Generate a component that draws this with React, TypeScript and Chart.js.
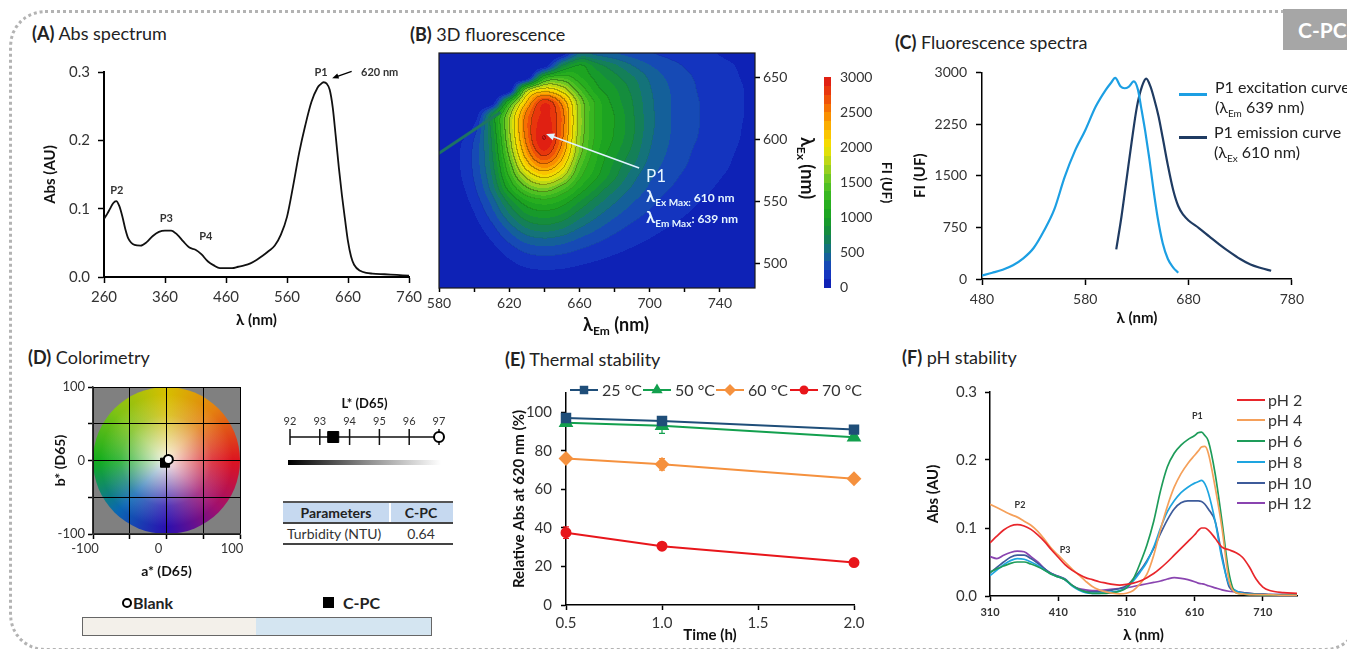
import React, { useEffect, useRef } from 'react';
import { Chart, registerables } from 'chart.js';

Chart.register(...registerables);

const FONT = 'Lato, "Open Sans", "DejaVu Sans", sans-serif';

/* ---------------- (A) Abs spectrum ---------------- */
const absWavelength = [260, 265, 270, 275, 280, 285, 290, 295, 300, 310, 320, 330, 340, 350, 360, 370, 380, 390, 400, 410, 420, 430, 440, 450, 460, 470, 480, 490, 500, 510, 520, 530, 540, 550, 560, 570, 580, 590, 600, 610, 615, 620, 625, 630, 635, 640, 645, 650, 655, 660, 665, 670, 680, 690, 700, 720, 740, 760];
const absValue = [0.085, 0.092, 0.1, 0.108, 0.111, 0.104, 0.089, 0.07, 0.056, 0.047, 0.046, 0.051, 0.06, 0.066, 0.068, 0.068, 0.062, 0.052, 0.043, 0.04, 0.033, 0.023, 0.017, 0.013, 0.013, 0.013, 0.015, 0.017, 0.02, 0.025, 0.031, 0.038, 0.046, 0.062, 0.088, 0.133, 0.182, 0.222, 0.256, 0.277, 0.282, 0.285, 0.283, 0.274, 0.248, 0.205, 0.16, 0.12, 0.085, 0.052, 0.03, 0.018, 0.009, 0.006, 0.005, 0.004, 0.003, 0.002];
const absXTicks = [260, 360, 460, 560, 660, 760];
const absYTicks = [0, 0.1, 0.2, 0.3];

/* ---------------- (B) 3D fluorescence ---------------- */
const emAxisNm = [580, 590, 600, 610, 620, 630, 640, 650, 660, 670, 680, 690, 700, 710, 720, 730, 740, 750, 760];
const exAxisNm = [670, 660, 650, 640, 630, 620, 610, 600, 590, 580, 570, 560, 550, 540, 530, 520, 510, 500, 490, 480];
const fluorGrid = [
  [0, 0, 0, 0, 0, 0, 0, 0, 500, 450, 380, 320, 260, 220, 180, 150, 120, 100, 80],
  [0, 0, 0, 0, 0, 0, 0, 700, 1000, 800, 650, 500, 380, 300, 240, 190, 150, 120, 90],
  [0, 0, 0, 0, 0, 0, 1150, 1350, 1150, 950, 800, 650, 480, 360, 280, 220, 170, 130, 100],
  [0, 0, 0, 0, 0, 1650, 2100, 1900, 1400, 1050, 900, 720, 520, 390, 300, 230, 180, 140, 105],
  [0, 0, 0, 0, 1200, 2250, 2850, 2450, 1650, 1200, 950, 760, 540, 400, 310, 240, 180, 140, 105],
  [0, 0, 0, 750, 1650, 2550, 2900, 2600, 1700, 1200, 1000, 780, 550, 400, 310, 240, 180, 140, 105],
  [0, 0, 150, 800, 1700, 2600, 2950, 2600, 1700, 1200, 1000, 790, 550, 400, 310, 240, 180, 135, 100],
  [0, 80, 250, 750, 1650, 2550, 3000, 2550, 1650, 1200, 980, 770, 530, 390, 300, 230, 170, 130, 95],
  [30, 100, 280, 720, 1550, 2400, 2850, 2400, 1600, 1150, 920, 720, 500, 370, 280, 210, 160, 120, 90],
  [30, 100, 280, 680, 1400, 2150, 2500, 2150, 1450, 1100, 850, 650, 460, 340, 260, 200, 150, 110, 85],
  [20, 90, 260, 620, 1250, 1800, 2050, 1800, 1300, 1020, 780, 560, 400, 300, 230, 175, 130, 100, 75],
  [10, 70, 220, 540, 1050, 1450, 1600, 1400, 1100, 850, 640, 480, 350, 260, 200, 150, 110, 85, 65],
  [5, 50, 170, 420, 800, 1100, 1200, 1100, 880, 680, 520, 390, 290, 210, 160, 120, 90, 70, 55],
  [0, 30, 120, 320, 620, 880, 950, 880, 700, 540, 410, 310, 230, 170, 130, 100, 75, 60, 45],
  [0, 20, 80, 220, 450, 660, 730, 670, 530, 410, 310, 230, 170, 130, 100, 80, 60, 45, 35],
  [0, 10, 50, 140, 300, 450, 500, 460, 370, 290, 220, 165, 125, 95, 75, 60, 45, 35, 28],
  [0, 5, 30, 80, 180, 280, 310, 290, 240, 190, 145, 110, 85, 65, 50, 40, 30, 25, 20],
  [0, 0, 15, 40, 100, 160, 180, 170, 140, 110, 85, 65, 50, 40, 30, 25, 20, 15, 12],
  [0, 0, 5, 15, 45, 75, 85, 80, 65, 50, 40, 30, 25, 20, 15, 12, 10, 8, 6],
  [0, 0, 0, 5, 15, 25, 30, 28, 22, 18, 14, 10, 8, 6, 5, 4, 3, 2, 2],
];
const scatterEm = [579, 615];
const scatterEx = [588, 622];
const emTicks = [580, 600, 620, 640, 660, 680, 700, 720, 740];
const exTicks = [500, 550, 600, 650];
const fiTicks = [0, 500, 1000, 1500, 2000, 2500, 3000];
const heatStops = [0, 250, 500, 750, 1000, 1250, 1500, 1750, 2000, 2250, 2500, 2750, 3000];
const heatColors = [[12, 24, 178], [22, 62, 195], [20, 108, 140], [20, 135, 70], [24, 160, 34], [44, 178, 30], [92, 196, 36], [172, 212, 28], [242, 228, 0], [252, 186, 0], [248, 128, 0], [236, 66, 10], [220, 20, 20]];

/* ---------------- (C) Fluorescence spectra ---------------- */
const excWavelength = [480, 490, 500, 510, 520, 530, 540, 550, 560, 570, 580, 590, 600, 605, 609, 614, 618, 622, 627, 631, 634, 638, 642, 646, 650, 655, 660, 665, 670];
const excIntensity = [50, 90, 135, 200, 300, 450, 700, 1010, 1480, 1860, 2160, 2500, 2750, 2850, 2920, 2800, 2770, 2790, 2870, 2750, 2500, 2150, 1750, 1300, 900, 520, 290, 170, 90];
const emiWavelength = [610, 615, 620, 625, 630, 635, 639, 643, 647, 651, 655, 660, 665, 670, 675, 680, 690, 700, 710, 720, 730, 740, 750, 760];
const emiIntensity = [430, 900, 1450, 2000, 2500, 2800, 2910, 2800, 2600, 2360, 2050, 1650, 1300, 1060, 930, 850, 740, 620, 500, 390, 290, 210, 160, 120];
const fsXTicks = [480, 580, 680, 780];
const fsYTicks = [0, 750, 1500, 2250, 3000];

/* ---------------- (D) Colorimetry ---------------- */
const sampleNames = ['Blank', 'C-PC'];
const aStar = [2.5, -2];
const bStar = [1.5, -3];
const lStar = [97, 93.45];
const abTicks = [-100, -50, 0, 50, 100];
const lTicks = [92, 93, 94, 95, 96, 97];
const turbidityNTU = 0.64;

/* ---------------- (E) Thermal stability ---------------- */
const timeHours = [0.5, 1.0, 2.0];
const thermalLabels = ['25 °C', '50 °C', '60 °C', '70 °C'];
const rel25 = [97, 95.5, 91];
const rel50 = [94.5, 93, 87];
const rel60 = [76, 73, 65.5];
const rel70 = [37.5, 30.5, 22];
const err25 = [1.2, 1, 1];
const err50 = [1, 4, 1];
const err60 = [1.5, 3, 1];
const err70 = [3, 1, 0.8];
const timeTicks = [0.5, 1, 1.5, 2];
const relTicks = [0, 20, 40, 60, 80, 100];

/* ---------------- (F) pH stability ---------------- */
const phWavelength = [310, 320, 330, 340, 350, 360, 370, 380, 390, 400, 410, 420, 430, 440, 450, 460, 470, 480, 490, 500, 510, 520, 530, 540, 550, 560, 570, 580, 590, 600, 610, 615, 620, 625, 630, 640, 650, 660, 670, 680, 690, 700, 710, 720, 740, 760];
const phLabels = ['pH 2', 'pH 4', 'pH 6', 'pH 8', 'pH 10', 'pH 12'];
const absPH2 = [0.078, 0.088, 0.097, 0.103, 0.105, 0.103, 0.098, 0.09, 0.08, 0.068, 0.057, 0.046, 0.038, 0.032, 0.027, 0.024, 0.021, 0.019, 0.017, 0.016, 0.017, 0.019, 0.022, 0.027, 0.033, 0.041, 0.05, 0.06, 0.07, 0.08, 0.09, 0.096, 0.1, 0.1, 0.097, 0.085, 0.072, 0.068, 0.064, 0.057, 0.043, 0.025, 0.013, 0.008, 0.005, 0.004];
const absPH4 = [0.135, 0.13, 0.125, 0.12, 0.116, 0.11, 0.104, 0.095, 0.083, 0.07, 0.06, 0.05, 0.04, 0.031, 0.022, 0.014, 0.009, 0.006, 0.004, 0.003, 0.004, 0.008, 0.018, 0.032, 0.06, 0.098, 0.132, 0.16, 0.18, 0.195, 0.207, 0.213, 0.219, 0.22, 0.21, 0.16, 0.1, 0.025, 0.005, 0.003, 0.002, 0.002, 0.002, 0.002, 0.001, 0.001];
const absPH6 = [0.035, 0.04, 0.044, 0.048, 0.05, 0.05, 0.047, 0.043, 0.038, 0.032, 0.028, 0.024, 0.016, 0.01, 0.006, 0.004, 0.004, 0.004, 0.005, 0.007, 0.012, 0.025, 0.048, 0.075, 0.11, 0.155, 0.19, 0.21, 0.222, 0.23, 0.236, 0.24, 0.241, 0.236, 0.228, 0.18, 0.11, 0.035, 0.005, 0.003, 0.002, 0.002, 0.001, 0.001, 0.001, 0.001];
const absPH8 = [0.03, 0.038, 0.046, 0.052, 0.055, 0.054, 0.05, 0.045, 0.038, 0.032, 0.028, 0.024, 0.015, 0.009, 0.005, 0.004, 0.004, 0.005, 0.006, 0.008, 0.012, 0.022, 0.035, 0.05, 0.072, 0.1, 0.124, 0.14, 0.152, 0.16, 0.166, 0.168, 0.17, 0.165, 0.152, 0.11, 0.055, 0.018, 0.008, 0.004, 0.003, 0.002, 0.002, 0.002, 0.001, 0.001];
const absPH10 = [0.034, 0.042, 0.05, 0.057, 0.06, 0.06, 0.055, 0.048, 0.04, 0.033, 0.029, 0.025, 0.016, 0.01, 0.007, 0.006, 0.006, 0.007, 0.009, 0.011, 0.015, 0.025, 0.037, 0.052, 0.07, 0.092, 0.112, 0.128, 0.137, 0.14, 0.14, 0.14, 0.139, 0.135, 0.128, 0.11, 0.06, 0.015, 0.007, 0.005, 0.004, 0.003, 0.003, 0.002, 0.002, 0.002];
const absPH12 = [0.058, 0.055, 0.06, 0.064, 0.066, 0.065, 0.058, 0.05, 0.04, 0.033, 0.029, 0.024, 0.016, 0.011, 0.009, 0.008, 0.008, 0.009, 0.01, 0.011, 0.012, 0.014, 0.016, 0.018, 0.02, 0.022, 0.025, 0.027, 0.026, 0.024, 0.021, 0.019, 0.018, 0.017, 0.015, 0.012, 0.009, 0.007, 0.006, 0.005, 0.004, 0.003, 0.003, 0.002, 0.002, 0.002];
const phXTicks = [310, 410, 510, 610, 710];
const phYTicks = [0, 0.1, 0.2, 0.3];

/* ---------------- colours ---------------- */
const EXC_COLOR = '#1c9fe3';
const EMI_COLOR = '#1f3b62';
const THERMAL_COLORS = ['#1f4e79', '#13a04e', '#f5913e', '#e8161b'];
const THERMAL_MARKERS = ['rect', 'triangle', 'rectRot', 'circle'];
const THERMAL_RADII = [6, 6.5, 6, 4.5];
const PH_COLORS = ['#e8262b', '#f5a05a', '#1e9c5a', '#1ea5e0', '#3d5b9a', '#8a44b0'];

/* ---------------- helpers ---------------- */
const clamp = (v: number, a: number, b: number) => Math.max(a, Math.min(b, v));

function mkAxis(o: any) {
  const horiz = o.position === 'bottom' || o.position === 'top';
  let title: any = { display: false };
  if (o.title) {
    const lh = o.title.size * 1.2;
    const p = Math.max(0, o.title.offset - lh / 2);
    title = {
      display: true,
      text: o.title.text,
      color: '#111',
      font: { family: FONT, size: o.title.size, weight: 'bold', lineHeight: 1.2 },
      padding: o.position === 'bottom' ? { top: 0, bottom: p } : { top: p, bottom: 0 },
    };
  }
  return {
    type: 'linear',
    position: o.position,
    min: o.min,
    max: o.max,
    afterBuildTicks: (s: any) => {
      s.ticks = o.ticks.map((v: number) => ({ value: v }));
    },
    afterFit: (s: any) => {
      if (horiz) s.height = o.size;
      else s.width = o.size;
    },
    ticks: {
      autoSkip: false,
      maxRotation: 0,
      minRotation: 0,
      includeBounds: false,
      padding: o.pad ?? 4,
      color: o.color ?? '#333',
      labelOffset: o.labelOffset ?? 0,
      font: { family: FONT, size: o.font ?? 14, weight: o.fontWeight ?? 'normal' },
      callback: (v: any) => (o.fmt ? o.fmt(Number(v)) : String(v)),
    },
    grid: {
      drawOnChartArea: !!o.gridOn,
      drawTicks: o.drawTicks ?? true,
      tickLength: o.tickLen ?? 5,
      color: o.gridColor ?? '#000',
      lineWidth: o.gridWidth ?? 1,
      tickColor: o.tickColor ?? '#000',
      tickWidth: o.tickWidth ?? 1.5,
    },
    border: { display: o.borderOn ?? true, color: o.borderColor ?? '#000', width: o.borderWidth ?? 1.5 },
    title,
  };
}

const baseOptions = () => ({ animation: false, responsive: false, maintainAspectRatio: false, events: [] as any[] });
const basePlugins = { legend: { display: false }, tooltip: { enabled: false } };

function drawArrow(ctx: any, x1: number, y1: number, x2: number, y2: number, color: string, width: number, head: number) {
  const ang = Math.atan2(y2 - y1, x2 - x1);
  ctx.strokeStyle = color;
  ctx.fillStyle = color;
  ctx.lineWidth = width;
  ctx.beginPath();
  ctx.moveTo(x1, y1);
  ctx.lineTo(x2 - Math.cos(ang) * head * 0.8, y2 - Math.sin(ang) * head * 0.8);
  ctx.stroke();
  ctx.beginPath();
  ctx.moveTo(x2, y2);
  ctx.lineTo(x2 - head * Math.cos(ang - 0.4), y2 - head * Math.sin(ang - 0.4));
  ctx.lineTo(x2 - head * Math.cos(ang + 0.4), y2 - head * Math.sin(ang + 0.4));
  ctx.closePath();
  ctx.fill();
}

function drawMarker(ctx: any, style: string, x: number, y: number, r: number, color: string) {
  ctx.fillStyle = color;
  ctx.beginPath();
  if (style === 'rect') {
    const s = r * Math.SQRT1_2;
    ctx.rect(x - s, y - s, 2 * s, 2 * s);
  } else if (style === 'triangle') {
    ctx.moveTo(x, y - r);
    ctx.lineTo(x + r * 0.866, y + r * 0.5);
    ctx.lineTo(x - r * 0.866, y + r * 0.5);
    ctx.closePath();
  } else if (style === 'rectRot') {
    ctx.moveTo(x, y - r);
    ctx.lineTo(x + r, y);
    ctx.lineTo(x, y + r);
    ctx.lineTo(x - r, y);
    ctx.closePath();
  } else {
    ctx.arc(x, y, r, 0, Math.PI * 2);
  }
  ctx.fill();
}

const notesPlugin = {
  id: 'notes',
  afterDatasetsDraw(chart: any, _a: any, opts: any) {
    const { ctx, scales } = chart;
    const xs = scales.x;
    const ys = scales.y;
    ctx.save();
    for (const it of opts.items || []) {
      if (it.arrow) {
        const [x1, y1, x2, y2] = it.arrow;
        drawArrow(ctx, xs.getPixelForValue(x1), ys.getPixelForValue(y1), xs.getPixelForValue(x2), ys.getPixelForValue(y2), it.color, it.width, it.head);
      } else {
        ctx.font = `${it.weight || 'bold'} ${it.size || 10}px ${FONT}`;
        ctx.fillStyle = it.color || '#333';
        ctx.textAlign = it.align || 'center';
        ctx.textBaseline = 'middle';
        ctx.fillText(it.text, xs.getPixelForValue(it.x), ys.getPixelForValue(it.y));
      }
    }
    ctx.restore();
  },
};

const legendPlugin = {
  id: 'lgd',
  afterDraw(chart: any, _a: any, o: any) {
    const { ctx } = chart;
    ctx.save();
    ctx.font = `${o.size}px ${FONT}`;
    ctx.textBaseline = 'middle';
    ctx.textAlign = 'left';
    for (const it of o.items || []) {
      ctx.strokeStyle = it.color;
      ctx.lineWidth = o.lineWidth;
      ctx.beginPath();
      ctx.moveTo(it.x, it.y);
      ctx.lineTo(it.x + o.lineLen, it.y);
      ctx.stroke();
      if (it.marker) drawMarker(ctx, it.marker, it.x + o.lineLen / 2, it.y, it.r, it.color);
      ctx.fillStyle = o.textColor;
      ctx.fillText(it.text, it.x + o.lineLen + o.gap, it.y + 1);
    }
    ctx.restore();
  },
};

const errorBarPlugin = {
  id: 'errbars',
  beforeDatasetsDraw(chart: any) {
    const { ctx, scales } = chart;
    ctx.save();
    chart.data.datasets.forEach((ds: any) => {
      if (!ds.errors) return;
      ctx.strokeStyle = ds.borderColor;
      ctx.lineWidth = 1.2;
      ds.data.forEach((p: any, j: number) => {
        const e = ds.errors[j];
        const px = scales.x.getPixelForValue(p.x);
        const t = scales.y.getPixelForValue(p.y + e);
        const b = scales.y.getPixelForValue(p.y - e);
        ctx.beginPath();
        ctx.moveTo(px, t);
        ctx.lineTo(px, b);
        ctx.moveTo(px - 3, t);
        ctx.lineTo(px + 3, t);
        ctx.moveTo(px - 3, b);
        ctx.lineTo(px + 3, b);
        ctx.stroke();
      });
    });
    ctx.restore();
  },
};

/* heat map sampling + colour map */
function catmull(p0: number, p1: number, p2: number, p3: number, t: number) {
  return 0.5 * (2 * p1 + (-p0 + p2) * t + (2 * p0 - 5 * p1 + 4 * p2 - p3) * t * t + (-p0 + 3 * p1 - 3 * p2 + p3) * t * t * t);
}
function sampleFluor(em: number, ex: number) {
  const nc = emAxisNm.length;
  const nr = exAxisNm.length;
  const c = clamp((em - emAxisNm[0]) / (emAxisNm[1] - emAxisNm[0]), 0, nc - 1);
  const r = clamp((ex - exAxisNm[0]) / (exAxisNm[1] - exAxisNm[0]), 0, nr - 1);
  const c1 = Math.min(nc - 2, Math.floor(c));
  const r1 = Math.min(nr - 2, Math.floor(r));
  const tc = c - c1;
  const tr = r - r1;
  const at = (ri: number, ci: number) => fluorGrid[clamp(ri, 0, nr - 1)][clamp(ci, 0, nc - 1)];
  const rows = [-1, 0, 1, 2].map((dr) => catmull(at(r1 + dr, c1 - 1), at(r1 + dr, c1), at(r1 + dr, c1 + 1), at(r1 + dr, c1 + 2), tc));
  return Math.max(0, catmull(rows[0], rows[1], rows[2], rows[3], tr));
}
const BAND = 125;
function heatColor(v: number) {
  const q = clamp(Math.floor(v / BAND) * BAND + BAND / 2, 0, 3000);
  let i = 0;
  while (i < heatStops.length - 2 && q > heatStops[i + 1]) i++;
  const t = (q - heatStops[i]) / (heatStops[i + 1] - heatStops[i]);
  const a = heatColors[i];
  const b = heatColors[i + 1];
  return [a[0] + (b[0] - a[0]) * t, a[1] + (b[1] - a[1]) * t, a[2] + (b[2] - a[2]) * t];
}

const heatmapPlugin = {
  id: 'heat',
  beforeDraw(chart: any) {
    const { ctx, chartArea: a, scales } = chart;
    const left = Math.round(a.left);
    const top = Math.round(a.top);
    const w = Math.round(a.right) - left;
    const h = Math.round(a.bottom) - top;
    const vals = new Float32Array(w * h);
    for (let j = 0; j < h; j++) {
      const ex = scales.y.getValueForPixel(top + j + 0.5);
      for (let i = 0; i < w; i++) {
        const em = scales.x.getValueForPixel(left + i + 0.5);
        vals[j * w + i] = sampleFluor(em, ex);
      }
    }
    const img = ctx.createImageData(w, h);
    for (let j = 0; j < h; j++) {
      for (let i = 0; i < w; i++) {
        const k = j * w + i;
        const v = vals[k];
        const col = heatColor(v);
        const L = Math.floor(v / 250);
        const Lr = i < w - 1 ? Math.floor(vals[k + 1] / 250) : L;
        const Lb = j < h - 1 ? Math.floor(vals[k + w] / 250) : L;
        let f = 1;
        if (L !== Lr || L !== Lb) {
          const m = Math.max(L, Lr, Lb);
          f = m >= 6 ? 0.72 : m >= 4 ? 0.88 : 0.95;
        }
        img.data[k * 4] = col[0] * f;
        img.data[k * 4 + 1] = col[1] * f;
        img.data[k * 4 + 2] = col[2] * f;
        img.data[k * 4 + 3] = 255;
      }
    }
    ctx.putImageData(img, left, top);
  },
};

const framePlugin = {
  id: 'frame',
  afterDraw(chart: any) {
    const { ctx, chartArea: a } = chart;
    ctx.save();
    ctx.strokeStyle = '#1a1a1a';
    ctx.lineWidth = 1.2;
    ctx.strokeRect(a.left, a.top, a.right - a.left, a.bottom - a.top);
    ctx.restore();
  },
};

const colorbarPlugin = {
  id: 'cbar',
  beforeDraw(chart: any) {
    const { ctx, chartArea: a, scales } = chart;
    for (let py = Math.round(a.top); py < Math.round(a.bottom); py++) {
      const v = scales.y.getValueForPixel(py + 0.5);
      const c = heatColor(clamp(v, 0, 2999));
      ctx.fillStyle = `rgb(${c[0]},${c[1]},${c[2]})`;
      ctx.fillRect(a.left, py, a.right - a.left, 1);
    }
  },
};

const wheelStops: [number, string][] = [
  [0, '#dc1420'],
  [0.12, '#a0106e'],
  [0.25, '#2a10b0'],
  [0.37, '#0a66b4'],
  [0.5, '#14ad1e'],
  [0.62, '#7ec214'],
  [0.75, '#d6bf00'],
  [0.87, '#e48010'],
  [1, '#dc1420'],
];
const wheelPlugin = {
  id: 'wheel',
  beforeDraw(chart: any) {
    const { ctx, chartArea: a, scales } = chart;
    ctx.save();
    ctx.fillStyle = '#808080';
    ctx.fillRect(a.left, a.top, a.right - a.left, a.bottom - a.top);
    const cx = scales.x.getPixelForValue(0);
    const cy = scales.y.getPixelForValue(0);
    const r = scales.x.getPixelForValue(100) - cx;
    const g = ctx.createConicGradient(0, cx, cy);
    wheelStops.forEach(([t, c]) => g.addColorStop(t, c));
    ctx.beginPath();
    ctx.arc(cx, cy, r, 0, Math.PI * 2);
    ctx.fillStyle = g;
    ctx.fill();
    const rg = ctx.createRadialGradient(cx, cy, 0, cx, cy, r);
    rg.addColorStop(0, 'rgba(250,246,238,0.97)');
    rg.addColorStop(0.3, 'rgba(246,242,232,0.6)');
    rg.addColorStop(0.62, 'rgba(240,240,240,0.18)');
    rg.addColorStop(0.9, 'rgba(255,255,255,0)');
    ctx.fillStyle = rg;
    ctx.fill();
    ctx.restore();
  },
};

const lStarPlugin = {
  id: 'lstar',
  beforeDatasetsDraw(chart: any) {
    const { ctx, chartArea: a, scales } = chart;
    const yl = a.top;
    const x0 = scales.x.getPixelForValue(lTicks[0]);
    const x1 = scales.x.getPixelForValue(lTicks[lTicks.length - 1]);
    ctx.save();
    ctx.strokeStyle = '#111';
    ctx.lineWidth = 1.5;
    ctx.beginPath();
    ctx.moveTo(x0, yl);
    ctx.lineTo(x1, yl);
    for (const v of lTicks) {
      const px = scales.x.getPixelForValue(v);
      ctx.moveTo(px, yl - 8);
      ctx.lineTo(px, yl + 8);
    }
    ctx.stroke();
    const g = ctx.createLinearGradient(x0, 0, x1 + 2, 0);
    g.addColorStop(0, '#000');
    g.addColorStop(0.5, '#8a8a8a');
    g.addColorStop(1, 'rgba(255,255,255,1)');
    ctx.fillStyle = g;
    ctx.fillRect(x0 - 2, yl + 23, x1 - x0 + 4, 5);
    ctx.restore();
  },
};

/* ---------------- configs ---------------- */
function configA() {
  return {
    type: 'line',
    data: {
      datasets: [{ data: absWavelength.map((x, i) => ({ x, y: absValue[i] })), borderColor: '#111', borderWidth: 1.8, pointRadius: 0, cubicInterpolationMode: 'monotone' }],
    },
    options: {
      ...baseOptions(),
      layout: { padding: { top: 17, right: 21, left: 0, bottom: 0 } },
      scales: {
        x: mkAxis({ position: 'bottom', min: 260, max: 760, ticks: absXTicks, size: 58, font: 15, tickLen: 6, pad: 5, borderWidth: 2, title: { text: 'λ (nm)', size: 15, offset: 15 } }),
        y: mkAxis({ position: 'left', min: 0, max: 0.3, ticks: absYTicks, size: 84, font: 15, tickLen: 6, pad: 8, borderWidth: 2, fmt: (v: number) => v.toFixed(1), title: { text: 'Abs (AU)', size: 15, offset: 30 } }),
      },
      plugins: {
        ...basePlugins,
        notes: {
          items: [
            { text: 'P2', x: 281, y: 0.126, size: 11 },
            { text: 'P3', x: 362, y: 0.086, size: 11 },
            { text: 'P4', x: 427, y: 0.06, size: 11 },
            { text: 'P1', x: 616, y: 0.3, size: 11 },
            { text: '620 nm', x: 712, y: 0.299, size: 11 },
            { arrow: [666, 0.301, 634, 0.291], color: '#000', width: 1.3, head: 7 },
          ],
        },
      },
    },
    plugins: [notesPlugin],
  };
}

function configB() {
  return {
    type: 'line',
    data: {
      datasets: [{ data: scatterEm.map((x, i) => ({ x, y: scatterEx[i] })), borderColor: 'rgba(30,118,96,0.95)', borderWidth: 3, pointRadius: 0 }],
    },
    options: {
      ...baseOptions(),
      layout: { padding: { top: 13, right: 0, left: 34, bottom: 0 } },
      scales: {
        x: mkAxis({ position: 'bottom', min: 580, max: 760, ticks: emTicks, size: 27, font: 14, tickLen: 4, pad: 3, borderOn: false, fmt: (v: number) => ((v - 580) % 40 === 0 ? String(v) : '') }),
        y: mkAxis({ position: 'right', min: 480, max: 670, ticks: exTicks, size: 50, font: 14, tickLen: 5, pad: 3, borderOn: false }),
      },
      plugins: {
        ...basePlugins,
        notes: { items: [{ arrow: [694, 577, 641, 604.5], color: '#dff3ff', width: 1.6, head: 9 }] },
      },
    },
    plugins: [heatmapPlugin, framePlugin, notesPlugin],
  };
}

function configBar() {
  return {
    type: 'scatter',
    data: { datasets: [] as any[] },
    options: {
      ...baseOptions(),
      layout: { padding: { top: 12, right: 0, left: 9, bottom: 15 } },
      scales: {
        x: { display: false, min: 0, max: 1 },
        y: mkAxis({ position: 'right', min: 0, max: 3000, ticks: fiTicks, size: 69, font: 14, drawTicks: false, pad: 9, borderOn: false, title: { text: 'FI (UF)', size: 14, offset: 13 } }),
      },
      plugins: { ...basePlugins },
    },
    plugins: [colorbarPlugin],
  };
}

function configC() {
  return {
    type: 'line',
    data: {
      datasets: [
        { data: excWavelength.map((x, i) => ({ x, y: excIntensity[i] })), borderColor: EXC_COLOR, borderWidth: 2.2, pointRadius: 0, cubicInterpolationMode: 'monotone' },
        { data: emiWavelength.map((x, i) => ({ x, y: emiIntensity[i] })), borderColor: EMI_COLOR, borderWidth: 2.2, pointRadius: 0, cubicInterpolationMode: 'monotone' },
      ],
    },
    options: {
      ...baseOptions(),
      layout: { padding: { top: 17, right: 16, left: 0, bottom: 0 } },
      scales: {
        x: mkAxis({ position: 'bottom', min: 480, max: 780, ticks: fsXTicks, size: 56, font: 14, tickLen: 6, pad: 6, title: { text: 'λ (nm)', size: 15, offset: 17 } }),
        y: mkAxis({ position: 'left', min: 0, max: 3000, ticks: fsYTicks, size: 87, font: 14, tickLen: 6, pad: 9, title: { text: 'FI (UF)', size: 15, offset: 25 } }),
      },
      plugins: { ...basePlugins },
    },
  };
}

function configD() {
  return {
    type: 'scatter',
    data: {
      datasets: [
        { label: sampleNames[0], data: [{ x: aStar[0], y: bStar[0] }], pointStyle: 'circle', pointRadius: 4.5, pointBackgroundColor: '#fff', pointBorderColor: '#000', pointBorderWidth: 2, clip: false },
        { label: sampleNames[1], data: [{ x: aStar[1], y: bStar[1] }], pointStyle: 'rect', pointRadius: 6.4, pointBackgroundColor: '#000', pointBorderColor: '#000', pointBorderWidth: 1, clip: false },
      ],
    },
    options: {
      ...baseOptions(),
      layout: { padding: { top: 12, right: 20, left: 0, bottom: 0 } },
      scales: {
        x: mkAxis({ position: 'bottom', min: -100, max: 100, ticks: abTicks, size: 51, font: 13, tickLen: 5, pad: 2, gridOn: true, labelOffset: -8, borderColor: '#333', fmt: (v: number) => (v % 100 === 0 ? String(v) : ''), title: { text: 'a* (D65)', size: 14, offset: 14 } }),
        y: mkAxis({ position: 'left', min: -100, max: 100, ticks: abTicks, size: 73, font: 13, tickLen: 5, pad: 3, gridOn: true, borderColor: '#333', fmt: (v: number) => (v % 100 === 0 ? String(v) : ''), title: { text: 'b* (D65)', size: 14, offset: 40 } }),
      },
      plugins: { ...basePlugins },
    },
    plugins: [wheelPlugin],
  };
}

function configL() {
  return {
    type: 'scatter',
    data: {
      datasets: [
        { label: sampleNames[0], data: [{ x: lStar[0], y: 0 }], pointStyle: 'circle', pointRadius: 5, pointBackgroundColor: '#fff', pointBorderColor: '#000', pointBorderWidth: 2, clip: false },
        { label: sampleNames[1], data: [{ x: lStar[1], y: 0 }], pointStyle: 'rect', pointRadius: 7.8, pointBackgroundColor: '#000', pointBorderColor: '#000', pointBorderWidth: 1, clip: false },
      ],
    },
    options: {
      ...baseOptions(),
      layout: { padding: { top: 0, right: 21, left: 20, bottom: 5 } },
      scales: {
        x: mkAxis({ position: 'top', min: 92, max: 97, ticks: lTicks, size: 47, font: 11, drawTicks: false, pad: 9, borderOn: false, title: { text: 'L* (D65)', size: 13, offset: 14 } }),
        y: { display: false, min: -1, max: 0 },
      },
      plugins: { ...basePlugins },
    },
    plugins: [lStarPlugin],
  };
}

function configE() {
  const series = [rel25, rel50, rel60, rel70];
  const errs = [err25, err50, err60, err70];
  const legendX = [95, 168, 241, 315];
  return {
    type: 'line',
    data: {
      datasets: series.map((s, k) => ({
        label: thermalLabels[k],
        data: timeHours.map((x, i) => ({ x, y: s[i] })),
        errors: errs[k],
        borderColor: THERMAL_COLORS[k],
        backgroundColor: THERMAL_COLORS[k],
        borderWidth: 2,
        pointStyle: THERMAL_MARKERS[k],
        pointRadius: THERMAL_RADII[k],
        pointBackgroundColor: THERMAL_COLORS[k],
        pointBorderColor: THERMAL_COLORS[k],
        clip: false,
      })),
    },
    options: {
      ...baseOptions(),
      layout: { padding: { top: 15, right: 16, left: 0, bottom: 0 } },
      scales: {
        x: mkAxis({ position: 'bottom', min: 0.5, max: 2, ticks: timeTicks, size: 45, font: 15, tickLen: 5, pad: 4, fmt: (v: number) => v.toFixed(1), title: { text: 'Time (h)', size: 15, offset: 15 } }),
        y: mkAxis({ position: 'left', min: 0, max: 110, ticks: relTicks, size: 91, font: 15, tickLen: 5, pad: 9, title: { text: 'Relative Abs at 620 nm (%)', size: 15, offset: 44 } }),
      },
      plugins: {
        ...basePlugins,
        lgd: {
          size: 16,
          lineWidth: 2,
          lineLen: 28,
          gap: 4,
          textColor: '#333',
          items: thermalLabels.map((t, k) => ({ text: t, color: THERMAL_COLORS[k], marker: THERMAL_MARKERS[k], r: THERMAL_RADII[k], x: legendX[k], y: 15 })),
        },
      },
    },
    plugins: [errorBarPlugin, legendPlugin],
  };
}

function configF() {
  const series = [absPH2, absPH4, absPH6, absPH8, absPH10, absPH12];
  const rowsY = [25, 45, 66, 87, 108, 128];
  return {
    type: 'line',
    data: {
      datasets: series.map((s, k) => ({
        label: phLabels[k],
        data: phWavelength.map((x, i) => ({ x, y: s[i] })),
        borderColor: PH_COLORS[k],
        borderWidth: 1.7,
        pointRadius: 0,
        cubicInterpolationMode: 'monotone',
      })),
    },
    options: {
      ...baseOptions(),
      layout: { padding: { top: 11, right: 43, left: 0, bottom: 0 } },
      scales: {
        x: mkAxis({ position: 'bottom', min: 310, max: 760, ticks: phXTicks, size: 54, font: 11, fontWeight: 'bold', tickLen: 5, pad: 5, color: '#333', title: { text: 'λ (nm)', size: 15, offset: 15 } }),
        y: mkAxis({ position: 'left', min: 0, max: 0.3, ticks: phYTicks, size: 90, font: 15, tickLen: 5, pad: 8, fmt: (v: number) => v.toFixed(1), title: { text: 'Abs (AU)', size: 15, offset: 33 } }),
      },
      plugins: {
        ...basePlugins,
        notes: {
          items: [
            { text: 'P1', x: 614, y: 0.264, size: 9 },
            { text: 'P2', x: 354, y: 0.133, size: 9 },
            { text: 'P3', x: 420, y: 0.067, size: 9 },
          ],
        },
        lgd: {
          size: 16,
          lineWidth: 2,
          lineLen: 28,
          gap: 3,
          textColor: '#333',
          items: phLabels.map((t, k) => ({ text: t, color: PH_COLORS[k], x: 337, y: rowsY[k] })),
        },
      },
    },
    plugins: [notesPlugin, legendPlugin],
  };
}

/* ---------------- components ---------------- */
function ChartCanvas({ x, y, w, h, make }: any) {
  const ref = useRef<HTMLCanvasElement | null>(null);
  useEffect(() => {
    if (!ref.current) return;
    const chart = new Chart(ref.current, make());
    return () => chart.destroy();
  }, []);
  return (
    <div style={{ position: 'absolute', left: x, top: y, width: w, height: h }}>
      <canvas ref={ref} width={w} height={h} style={{ width: w, height: h, display: 'block' }} />
    </div>
  );
}

function Txt({ x, cy, size = 16, bold = false, color = '#222', center = false, rotate = 0, children }: any) {
  const style: any = {
    position: 'absolute',
    left: x,
    top: cy,
    fontSize: size,
    lineHeight: `${size}px`,
    fontWeight: bold ? 'bold' : 'normal',
    color,
    whiteSpace: 'nowrap',
    transform: `translate(${center ? '-50%' : '0'}, -50%)${rotate ? ` rotate(${rotate}deg)` : ''}`,
    transformOrigin: center ? 'center' : 'left center',
  };
  return <div style={style}>{children}</div>;
}

const Sub = ({ size = 10, children }: any) => <span style={{ fontSize: size, position: 'relative', top: size * 0.35 }}>{children}</span>;

function PanelTitle({ x, cy, tag, text }: any) {
  return (
    <Txt x={x} cy={cy} size={18} color="#222">
      <b>{tag}</b> {text}
    </Txt>
  );
}

export default function App() {
  return (
    <div style={{ position: 'absolute', left: 0, top: 0, width: 1347, height: 649, overflow: 'hidden', background: '#fff', fontFamily: FONT, color: '#222' }}>
      <div style={{ position: 'absolute', left: 9, top: 10, width: 1352, height: 641, border: '3px dotted #b3b3b3', borderRadius: 36, boxSizing: 'border-box' }} />
      <div style={{ position: 'absolute', left: 1283, top: 9, width: 70, height: 41, background: '#a6a6a6', color: '#fff', fontWeight: 'bold', fontSize: 21, lineHeight: '41px', paddingLeft: 15, boxSizing: 'border-box' }}>C-PC</div>

      <PanelTitle x={32} cy={33} tag="(A)" text="Abs spectrum" />
      <PanelTitle x={410} cy={34} tag="(B)" text="3D fluorescence" />
      <PanelTitle x={895} cy={42} tag="(C)" text="Fluorescence spectra" />
      <PanelTitle x={28} cy={357} tag="(D)" text="Colorimetry" />
      <PanelTitle x={505} cy={359} tag="(E)" text="Thermal stability" />
      <PanelTitle x={902} cy={357} tag="(F)" text="pH stability" />

      <ChartCanvas x={20} y={55} w={410} h={280} make={configA} />
      <ChartCanvas x={405} y={40} w={400} h={275} make={configB} />
      <ChartCanvas x={815} y={60} w={85} h={245} make={configBar} />
      <ChartCanvas x={895} y={55} w={415} h={280} make={configC} />
      <ChartCanvas x={20} y={375} w={240} h={210} make={configD} />
      <ChartCanvas x={270} y={390} w={190} h={85} make={configL} />
      <ChartCanvas x={475} y={375} w={395} h={275} make={configE} />
      <ChartCanvas x={900} y={375} w={440} h={275} make={configF} />

      {/* (B) overlays */}
      <Txt x={616} cy={325} size={18} bold center color="#111">
        λ<Sub size={12}>Em</Sub> (nm)
      </Txt>
      <Txt x={806} cy={168} size={18} bold center rotate={90} color="#111">
        λ<Sub size={12}>Ex</Sub> (nm)
      </Txt>
      <Txt x={646} cy={175} size={17} color="#e6f6ff">P1</Txt>
      <Txt x={646} cy={197} size={17} bold color="#e6f6ff">
        λ<span style={{ fontSize: 10, position: 'relative', top: 4, fontWeight: 'bold' }}>Ex Max:</span>
        <span style={{ fontSize: 12, fontWeight: 'bold' }}> 610 nm</span>
      </Txt>
      <Txt x={646} cy={218} size={17} bold color="#e6f6ff">
        λ<span style={{ fontSize: 10, position: 'relative', top: 4, fontWeight: 'bold' }}>Em Max</span>
        <span style={{ fontSize: 12, fontWeight: 'bold' }}>: 639 nm</span>
      </Txt>

      {/* (C) legend */}
      <div style={{ position: 'absolute', left: 1179, top: 93, width: 28, height: 3, background: EXC_COLOR }} />
      <div style={{ position: 'absolute', left: 1179, top: 136, width: 28, height: 3, background: EMI_COLOR }} />
      <Txt x={1215} cy={87} size={16}>P1 excitation curve</Txt>
      <Txt x={1215} cy={108} size={16}>
        (λ<Sub size={10}>Em</Sub> 639 nm)
      </Txt>
      <Txt x={1214} cy={132} size={16}>P1 emission curve</Txt>
      <Txt x={1214} cy={153} size={16}>
        (λ<Sub size={10}>Ex</Sub> 610 nm)
      </Txt>

      {/* (D) table */}
      <div style={{ position: 'absolute', left: 283, top: 502, width: 170, height: 21, background: '#c6d9f0' }} />
      <div style={{ position: 'absolute', left: 283, top: 501, width: 170, height: 2, background: '#555' }} />
      <div style={{ position: 'absolute', left: 389, top: 503, width: 2, height: 20, background: '#fff' }} />
      <div style={{ position: 'absolute', left: 283, top: 522, width: 170, height: 2, background: '#444' }} />
      <div style={{ position: 'absolute', left: 283, top: 543, width: 170, height: 2, background: '#444' }} />
      <Txt x={336} cy={513} size={14} bold center>Parameters</Txt>
      <Txt x={421} cy={513} size={14} bold center>{sampleNames[1]}</Txt>
      <Txt x={287} cy={534} size={14} color="#333">Turbidity (NTU)</Txt>
      <Txt x={421} cy={534} size={14} center color="#333">{turbidityNTU.toFixed(2)}</Txt>

      {/* (D) sample legend & colour swatches */}
      <div style={{ position: 'absolute', left: 122, top: 598, width: 6, height: 6, border: '2px solid #000', borderRadius: '50%', background: '#fff' }} />
      <Txt x={133} cy={603} size={16} bold>{sampleNames[0]}</Txt>
      <div style={{ position: 'absolute', left: 323, top: 597, width: 11, height: 11, background: '#000' }} />
      <Txt x={343} cy={603} size={16} bold>{sampleNames[1]}</Txt>
      <div style={{ position: 'absolute', left: 82, top: 617, width: 350, height: 19, border: '1.5px solid #666', boxSizing: 'border-box', display: 'flex' }}>
        <div style={{ width: 173, height: '100%', background: '#f3f0ea' }} />
        <div style={{ flex: 1, height: '100%', background: '#d4e5f1' }} />
      </div>
    </div>
  );
}
